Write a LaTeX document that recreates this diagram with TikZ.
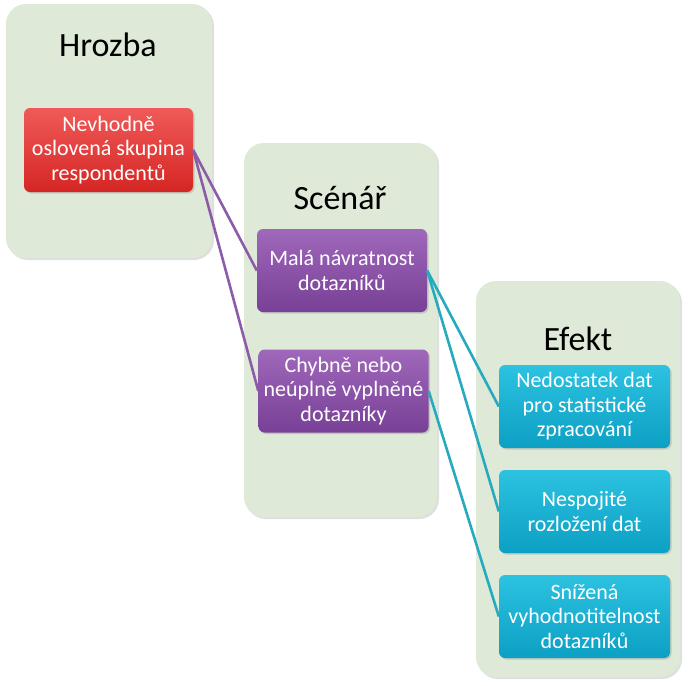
\documentclass[tikz,border=0pt]{standalone}
\usepackage{fontspec}
\setmainfont{Carlito}
\usetikzlibrary{shadows}
\definecolor{panelfill}{RGB}{222,234,215}
\definecolor{redtop}{RGB}{240,90,88}
\definecolor{redbot}{RGB}{212,38,36}
\definecolor{purtop}{RGB}{160,104,186}
\definecolor{purbot}{RGB}{120,64,150}
\definecolor{blutop}{RGB}{44,194,224}
\definecolor{blubot}{RGB}{12,160,196}
\definecolor{purline}{RGB}{140,92,168}
\definecolor{bluline}{RGB}{38,170,192}
\tikzset{
  panel/.style={fill=panelfill, rounded corners=20pt, draw=none,
    drop shadow={shadow xshift=2pt, shadow yshift=-2pt, opacity=0.25}},
  ptitle/.style={font=\fontsize{34}{40}\selectfont, text=black},
  box/.style={rounded corners=6pt, draw=none, text=white, align=center,
    font=\fontsize{22}{24.5}\selectfont, inner sep=0pt,
    drop shadow={shadow xshift=1.5pt, shadow yshift=-1.5pt, opacity=0.3}},
  redbox/.style={box, top color=redtop, bottom color=redbot, minimum width=169pt, minimum height=84pt},
  purbox/.style={box, top color=purtop, bottom color=purbot, minimum width=170pt, minimum height=83pt},
  blubox/.style={box, top color=blutop, bottom color=blubot, minimum width=171pt, minimum height=83pt},
  purconn/.style={draw=purline, line width=2.6pt},
  bluconn/.style={draw=bluline, line width=2.6pt}
}
\begin{document}
\begin{tikzpicture}[x=1pt,y=-1pt]
\useasboundingbox[fill=white] (0,0) rectangle (689,686);
% panels
\node[panel, minimum width=206pt, minimum height=254pt, inner sep=0pt] (ph) at (109,131) {};
\node[panel, minimum width=193pt, minimum height=374pt, inner sep=0pt] (ps) at (340.5,330) {};
\node[panel, minimum width=204pt, minimum height=396pt, inner sep=0pt] (pe) at (578,479) {};
% titles
\node[ptitle] (th) at (108,45) {Hrozba};
\node[ptitle] (ts) at (340,198) {Scénář};
\node[ptitle] (te) at (578,339) {Efekt};
% boxes
\node[redbox] (r) at (108.5,150) {Nevhodně\\oslovená skupina\\respondentů};
\node[purbox] (p1) at (342,270.5) {Malá návratnost\\dotazníků};
\node[purbox] (p2) at (343.5,391) {Chybně nebo\\neúplně vyplněné\\dotazníky};
\node[blubox] (b1) at (584.5,406.5) {Nedostatek dat\\pro statistické\\zpracování};
\node[blubox] (b2) at (584.5,511.5) {Nespojité\\rozložení dat};
\node[blubox] (b3) at (584.5,616.5) {Snížená\\vyhodnotitelnost\\dotazníků};
% connectors
\draw[purconn] (r.east) -- (p1.west);
\draw[purconn] (r.east) -- (p2.west);
\draw[bluconn] (p1.east) -- (b1.west);
\draw[bluconn] (p1.east) -- (b2.west);
\draw[bluconn] (p2.east) -- (b3.west);
\end{tikzpicture}
\end{document}
